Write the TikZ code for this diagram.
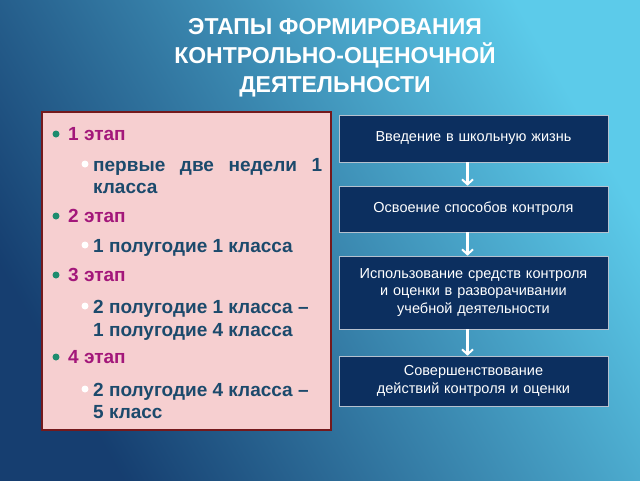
\documentclass[tikz,border=0pt]{standalone}
\usepackage{fontspec}
\setmainfont{Liberation Sans}
\usetikzlibrary{arrows.meta,positioning}
\definecolor{bgdark}{HTML}{1B4E8C}
\definecolor{bglight}{HTML}{5CCBEA}
\definecolor{panelpink}{HTML}{F6CFD0}
\definecolor{panelline}{HTML}{74191C}
\definecolor{boxblue}{HTML}{0C2F5F}
\definecolor{stagecol}{HTML}{A3177A}
\definecolor{textcol}{HTML}{1C4A6C}
\definecolor{dotgreen}{HTML}{1E8C6E}
\tikzset{
  stepbox/.style={draw=white!70!boxblue,line width=0.6pt,fill=boxblue,text=white,
    minimum width=267pt,text width=262pt,align=center,font=\fontsize{14.5}{17.5}\selectfont},
  stage/.style={anchor=base west,text=stagecol,font=\bfseries\fontsize{19}{22}\selectfont,inner sep=0pt},
  item/.style={anchor=base west,text=textcol,font=\bfseries\fontsize{19}{22}\selectfont,inner sep=0pt},
  flow/.style={white,line width=2.2pt,-{Straight Barb[length=5pt,width=11pt,line width=2pt]}}
}
\begin{document}
\begin{tikzpicture}[x=1pt,y=-1pt]
\useasboundingbox (0,0) rectangle (640,480);
\shade[left color=bgdark!80!black,right color=bglight,shading angle=120] (0,0) rectangle (640,480);

% title
\node[text=white,font=\bfseries\fontsize{23}{29}\selectfont,align=center] (title) at (335,58)
  {ЭТАПЫ ФОРМИРОВАНИЯ\\КОНТРОЛЬНО-ОЦЕНОЧНОЙ\\ДЕЯТЕЛЬНОСТИ};

% left panel
\draw[panelline,line width=2.5pt,fill=panelpink] (42,112) rectangle (331,430);
\foreach \y/\t in {140/1 этап,222/2 этап,281/3 этап,363/4 этап}{
  \fill[dotgreen] (56,\y-6) circle (3.5);
  \node[stage] at (68,\y) {\t};
}
\foreach \y in {171,252,313,396}
  \fill[white] (85,\y-7) circle (3.5);
\node[item,text width=229pt] (s1a) at (93,171) {первые\hfill две\hfill недели\hfill 1};
\node[item] (s1b) at (93,193) {класса};
\node[item] (s2) at (93,252) {1 полугодие 1 класса};
\node[item] (s3a) at (93,313) {2 полугодие 1 класса –};
\node[item] (s3b) at (93,336) {1 полугодие 4 класса};
\node[item] (s4a) at (93,396) {2 полугодие 4 класса –};
\node[item] (s4b) at (93,418) {5 класс};

% right boxes
\node[stepbox,minimum height=47pt] (b1) at (473.5,138.5) {Введение в школьную жизнь};
\node[stepbox,minimum height=46pt] (b2) at (473.5,209) {Освоение способов контроля};
\node[stepbox,minimum height=73pt] (b3) at (473.5,292.5) {Использование средств контроля и оценки в разворачивании учебной деятельности};
\node[stepbox,minimum height=50pt] (b4) at (473.5,381) {Совершенствование действий контроля и оценки};

\draw[flow] (b1.south) ++(-6,0) coordinate (c1) (c1) -- (c1|-b2.north);
\draw[flow] (b2.south) ++(-6,0) coordinate (c2) (c2) -- (c2|-b3.north);
\draw[flow] (b3.south) ++(-6,0) coordinate (c3) (c3) -- (c3|-b4.north);
\end{tikzpicture}
\end{document}
